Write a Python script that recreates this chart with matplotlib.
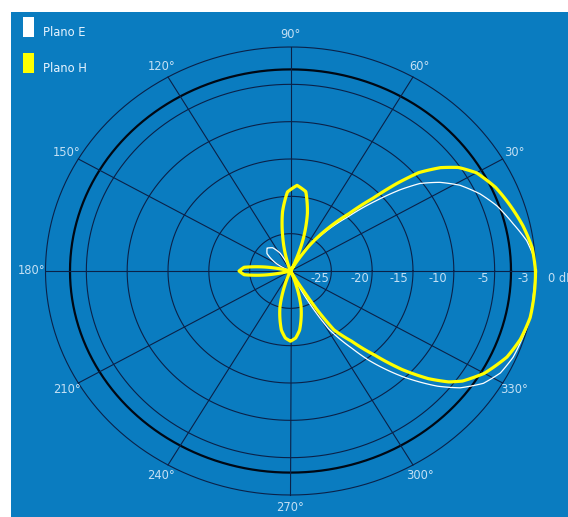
import numpy as np
import matplotlib
matplotlib.use("Agg")
import matplotlib.pyplot as plt
from matplotlib.patches import Rectangle

# Radiation pattern, H plane: angle (deg) -> relative level (dB)
h_angles = [0, 6, 12, 18, 24, 30, 34, 37, 40, 42, 44, 47, 51, 56, 60,
            66, 70, 75, 80, 86, 92, 97, 102, 107, 111,
            165, 170, 175, 180, 185, 190, 195,
            245, 250, 255, 262, 266, 270, 274, 278, 285, 290, 295,
            299, 301, 302, 304, 308.5, 312.5, 316, 319.5, 322.5, 325,
            330, 336.5, 342, 348, 354, 360]
h_db = [0.0, -0.25, -0.9, -1.7, -2.5, -3.7, -5.2, -7.0, -9.5, -12.5, -16.0, -19.5, -22.5, -26.0, -30.0,
        -28.5, -25.5, -22.0, -19.2, -18.5, -19.4, -22.0, -25.5, -28.5, -30.0,
        -30.0, -27.0, -24.3, -23.7, -24.3, -27.0, -30.0,
        -30.0, -28.0, -25.0, -22.0, -21.0, -20.6, -21.0, -22.0, -25.0, -28.0, -30.0,
        -30.0, -27.0, -24.0, -20.5, -18.0, -14.7, -11.0, -7.8, -5.6, -4.3,
        -2.6, -1.1, -0.4, 0.0, 0.0, 0.0]

# Radiation pattern, E plane
e_angles = [0, 4, 8, 13, 19, 24, 29, 33, 36.5, 39, 42, 46, 52, 58, 63,
            110, 118, 125, 133, 141, 150, 157,
            296, 297, 301, 306, 308.7, 314, 319.4, 323, 327.5, 332, 337, 343,
            348, 354, 360]
e_db = [-0.05, -0.2, -0.8, -2.0, -3.25, -4.6, -6.3, -8.2, -10.3, -12.7, -16.0, -20.0, -24.0, -27.0, -30.0,
        -30.0, -27.3, -26.2, -25.8, -26.3, -28.0, -30.0,
        -30.0, -27.0, -21.0, -17.2, -14.7, -10.4, -6.3, -4.0, -2.0, -0.9, -0.4, -0.2,
        0.0, -0.1, -0.05]

ring_levels = [-25, -20, -15, -10, -5, -3, 0]
ring_labels = ["-25", "-20", "-15", "-10", "-5", "-3", "0 dB"]
spoke_angles = list(range(0, 360, 30))
angle_label_values = list(range(30, 360, 30))
series_names = ["Plano E", "Plano H"]

W, H = 568, 517
BLUE = "#0a7cc0"
GRID = "#0a2148"
TEXT = "#c4e0f4"
FONT = 8.3

fig = plt.figure(figsize=(W / 100, H / 100), dpi=100)
fig.patch.set_facecolor("white")
fig.patches.append(Rectangle((11 / W, 0), 1 - 11 / W, (H - 12) / H,
                             transform=fig.transFigure, facecolor=BLUE,
                             edgecolor="none", zorder=-10))

ax = fig.add_axes([45.5 / W, 22 / H, 490 / W, 448 / H], projection="polar")
ax.set_zorder(1)
ax.set_aspect("auto")
ax.set_ylim(-30, 0)
ax.patch.set_visible(False)
ax.grid(False)
ax.set_xticks([])
ax.set_yticks([])
ax.spines["polar"].set_visible(False)

# rings
theta = np.linspace(0, 2 * np.pi, 721)
for lvl in ring_levels:
    thick = lvl == -3
    ax.plot(theta, np.full_like(theta, lvl),
            color="#000814" if thick else GRID,
            lw=1.6 if thick else 0.8, clip_on=False, zorder=1)

# spokes
for a in spoke_angles:
    t = np.deg2rad(a)
    ax.plot([t, t], [-30, 0], color=GRID, lw=0.8, clip_on=False, zorder=1)

# angle labels
for a in angle_label_values:
    ax.text(np.deg2rad(a), 1.65, f"{a}°", ha="center", va="center",
            color=TEXT, fontsize=FONT, family="DejaVu Sans", clip_on=False)

# level labels along the 0° spoke
level_offsets = [-11, -12, -14, -16, -11, 12, 12]
for lvl, lbl, dx in zip(ring_levels, ring_labels, level_offsets):
    ax.annotate(lbl, xy=(0, lvl), xytext=(dx, -8), textcoords="offset pixels",
                ha="left" if lbl.endswith("dB") else "center", va="center",
                color=TEXT, fontsize=FONT, family="DejaVu Sans",
                annotation_clip=False)

# patterns (segments follow the polar grid between samples)
e_line, = ax.plot(np.deg2rad(e_angles), e_db, color="white", lw=0.9,
                  clip_on=False, zorder=3, solid_joinstyle="round")
h_line, = ax.plot(np.deg2rad(h_angles), h_db, color="#ffff00", lw=2.3,
                  clip_on=False, zorder=4, solid_joinstyle="round")
for line in (e_line, h_line):
    line.get_path()._interpolation_steps = 16

# legend
legend_colors = ["white", "#ffff00"]
legend_tops = [17, 53]
for name, col, top in zip(series_names, legend_colors, legend_tops):
    fig.patches.append(Rectangle((23 / W, 1 - (top + 20) / H), 11 / W, 20 / H,
                                 transform=fig.transFigure, facecolor=col,
                                 edgecolor="none", zorder=2))
    fig.text(43 / W, 1 - (top + 16) / H, name, ha="left", va="center",
             color="#e8f4ff", fontsize=FONT, family="DejaVu Sans")

fig.savefig("out.png", dpi=100, facecolor=fig.get_facecolor())
